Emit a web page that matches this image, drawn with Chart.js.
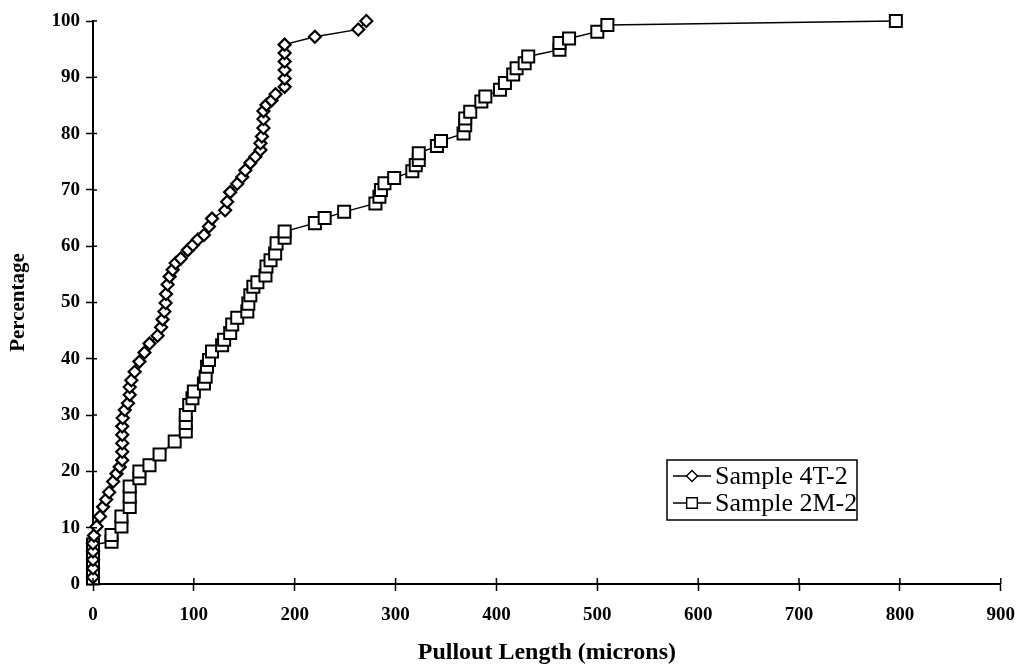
<!DOCTYPE html>
<html>
<head>
<meta charset="utf-8">
<script src="https://cdn.jsdelivr.net/npm/chart.js@4"></script>
<style>
  html, body { margin: 0; padding: 0; background: #fff; }
  #wrap { width: 1028px; height: 671px; }
</style>
</head>
<body>
<div id="wrap"><canvas id="pullout" width="1028" height="671"></canvas></div>
<script>
// values (pullout length in microns, cumulative %)
const sample4T2X = [0, 0, 0, 0, 0, 1, 3.6, 6.9, 10, 13, 16, 20, 23.3, 26.5, 29, 29, 29, 29, 29, 29.5,
  31.5, 34.7, 36.4, 36.4, 38, 41.3, 46, 51, 56, 64, 67.5, 69, 70.8, 72, 72.4, 74, 76, 79, 82, 87,
  94, 99, 104, 110, 115, 118, 131, 133, 136, 143, 148, 151, 156, 161, 166, 166, 167.5, 169, 169, 169,
  172, 177, 181, 190, 190, 190, 190, 190, 190, 220, 263, 271];
const sample4T2Y = [1.2, 2.8, 4.3, 5.8, 7.2, 8.6, 10.2, 12, 13.7, 15, 16.3, 18.2, 19.6, 20.8, 22, 23.5, 25, 26.5, 28, 29.5,
  30.9, 32.1, 33.6, 35, 36.2, 37.7, 39.5, 41.1, 42.7, 44.1, 45.6, 47, 48.4, 49.9, 51.5, 53.2, 54.6, 55.8, 57, 57.8,
  59.3, 60.2, 61.2, 62, 63.5, 64.9, 66.4, 67.9, 69.6, 71.1, 72.3, 73.5, 74.8, 75.9, 77.1, 78.3, 79.5, 81, 82.6, 84,
  85.1, 85.9, 87, 88.3, 89.8, 91.3, 92.8, 94.3, 95.8, 97.2, 98.5, 100];

const sample2M2X = [0, 0, 0, 0, 0, 18.4, 18.4, 28.2, 28.2, 36.4, 36.4, 36.4, 46, 46, 56, 66, 81, 92, 92, 92,
  95.4, 98.6, 100, 110, 111.7, 113, 115, 118, 128, 130, 136, 138, 143, 153, 154, 156, 159, 163, 171, 172,
  176, 180.6, 182, 190, 190, 220, 229.7, 249, 280, 284, 285.5, 289, 298.6, 316.6, 320, 323, 323, 341, 345, 367.4,
  369, 369, 374, 385, 389, 403.5, 408.4, 416.6, 420, 428, 431.5, 462.5, 462.5, 472, 500, 510, 796];
const sample2M2Y = [1.0, 2.5, 4.0, 5.5, 7.0, 7.5, 8.7, 10.2, 12, 13.7, 15.5, 17.3, 18.8, 20, 21.1, 23, 25.3, 27.1, 28.6, 30,
  31.8, 33, 34.2, 35.6, 36.8, 38.6, 39.8, 41.3, 42.4, 43.4, 44.6, 46.1, 47.3, 48.4, 49.8, 51.3, 52.8, 53.6, 54.8, 56.4,
  57.5, 58.7, 60.5, 61.5, 62.6, 64.1, 65, 66.1, 67.6, 68.8, 70, 71.2, 72.1, 73.3, 74.4, 75.3, 76.5, 77.8, 78.7, 80,
  81.5, 82.7, 83.9, 85.7, 86.6, 87.8, 89, 90.5, 91.6, 92.5, 93.7, 94.9, 96.1, 96.9, 98.1, 99.3, 100];

const seriesLabels = ['Sample 4T-2', 'Sample 2M-2'];

const serif = 'Liberation Serif, "Times New Roman", serif';

function pairs(xs, ys) {
    return xs.map((x, i) => ({ x: x, y: ys[i] }));
}

// legend box sitting inside the plot, lower right
const boxLegend = {
    id: 'boxLegend',
    afterDraw(chart) {
        const ctx = chart.ctx;
        ctx.save();
        ctx.strokeStyle = '#000';
        ctx.lineWidth = 1.5;
        ctx.strokeRect(667, 460, 190, 60);
        chart.data.datasets.forEach((ds, i) => {
            const y = 476 + i * 27;
            ctx.strokeStyle = '#000';
            ctx.lineWidth = 1.4;
            ctx.beginPath();
            ctx.moveTo(673, y);
            ctx.lineTo(711, y);
            ctx.stroke();
            ctx.fillStyle = '#fff';
            ctx.strokeStyle = '#000';
            Chart.helpers.drawPoint(ctx, {
                pointStyle: ds.pointStyle,
                rotation: 0,
                radius: ds.pointStyle === 'rect' ? 7.5 : 5.5,
                borderWidth: 1.8
            }, 692, y);
            ctx.fillStyle = '#000';
            ctx.font = '26px ' + serif;
            ctx.textBaseline = 'middle';
            ctx.textAlign = 'left';
            ctx.fillText(ds.label, 715, y + 1);
        });
        ctx.restore();
    }
};

// tick marks in the scan cross the axis, so add the inner half
const innerTicks = {
    id: 'innerTicks',
    afterDraw(chart) {
        const ctx = chart.ctx;
        const xs = chart.scales.x, ys = chart.scales.y;
        ctx.save();
        ctx.strokeStyle = '#000';
        ctx.lineWidth = 1.5;
        ctx.beginPath();
        xs.ticks.forEach(t => {
            const px = xs.getPixelForValue(t.value);
            ctx.moveTo(px, ys.bottom);
            ctx.lineTo(px, ys.bottom - 6);
        });
        ys.ticks.forEach(t => {
            const py = ys.getPixelForValue(t.value);
            ctx.moveTo(xs.left, py);
            ctx.lineTo(xs.left + 4, py);
        });
        ctx.stroke();
        ctx.restore();
    }
};

const ctx = document.getElementById('pullout').getContext('2d');

const myChart = new Chart(ctx, {
    type: 'scatter',
    data: {
        datasets: [
            {
                label: seriesLabels[0],
                data: pairs(sample4T2X, sample4T2Y),
                showLine: true,
                clip: false,
                borderColor: '#000',
                borderWidth: 1.4,
                pointStyle: 'rectRot',
                pointRadius: 6,
                pointBorderWidth: 2.2,
                pointBackgroundColor: '#fff',
                pointBorderColor: '#000'
            },
            {
                label: seriesLabels[1],
                data: pairs(sample2M2X, sample2M2Y),
                showLine: true,
                clip: false,
                borderColor: '#000',
                borderWidth: 1.4,
                pointStyle: 'rect',
                pointRadius: 8.5,
                pointBorderWidth: 2,
                pointBackgroundColor: '#fff',
                pointBorderColor: '#000'
            }
        ]
    },
    options: {
        responsive: false,
        animation: false,
        devicePixelRatio: 1,
        layout: { padding: { top: 21, right: 22, left: 0, bottom: 0 } },
        plugins: {
            legend: { display: false },
            tooltip: { enabled: false }
        },
        scales: {
            x: {
                type: 'linear',
                min: 0,
                max: 900,
                afterFit: s => { s.height = 87; },
                border: { color: '#000', width: 2 },
                grid: { drawOnChartArea: false, color: '#000', tickLength: 7, tickWidth: 1.5 },
                ticks: {
                    stepSize: 100,
                    color: '#000',
                    padding: 13,
                    maxRotation: 0,
                    font: { family: serif, size: 19, weight: 'bold' }
                },
                title: {
                    display: true,
                    text: 'Pullout Length (microns)',
                    color: '#000',
                    padding: { top: 0, bottom: 4 },
                    font: { family: serif, size: 24, weight: 'bold' }
                }
            },
            y: {
                min: 0,
                max: 100,
                afterFit: s => { s.width = 93; },
                border: { color: '#000', width: 2 },
                grid: { drawOnChartArea: false, color: '#000', tickLength: 7, tickWidth: 1.5 },
                ticks: {
                    stepSize: 10,
                    color: '#000',
                    padding: 6,
                    font: { family: serif, size: 19, weight: 'bold' }
                },
                title: {
                    display: true,
                    text: 'Percentage',
                    color: '#000',
                    padding: { top: 6, bottom: 0 },
                    font: { family: serif, size: 21, weight: 'bold' }
                }
            }
        }
    },
    plugins: [innerTicks, boxLegend]
});
</script>
</body>
</html>
